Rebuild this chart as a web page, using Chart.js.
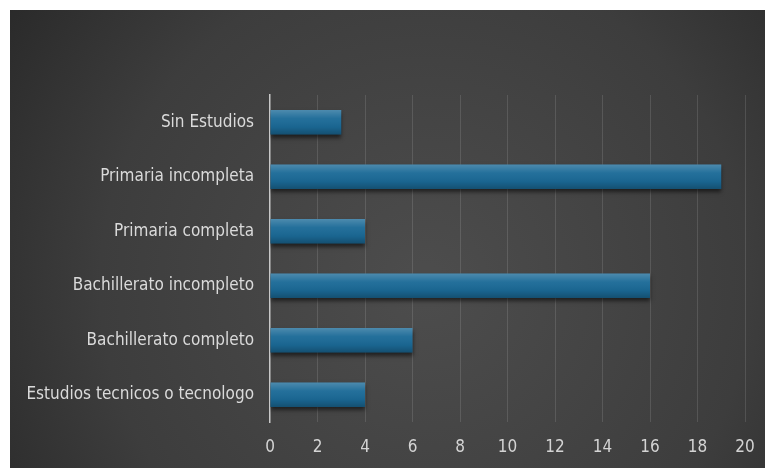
<!DOCTYPE html>
<html lang="es">
<head>
    <meta charset="UTF-8">
    <title>Nivel de estudios</title>
    <script src="https://cdn.jsdelivr.net/npm/chart.js"></script>
    <style>
        body {
            margin: 0;
            background: #ffffff;
        }
        .wrap {
            position: absolute;
            left: 10px;
            top: 10px;
            width: 755px;
            height: 458px;
        }
    </style>
</head>
<body>
    <div class="wrap"><canvas id="chart"></canvas></div>

    <script>
        // Data
        const categories = [
            'Sin Estudios',
            'Primaria incompleta',
            'Primaria completa',
            'Bachillerato incompleto',
            'Bachillerato completo',
            'Estudios tecnicos o tecnologo'
        ];
        const counts = [3, 19, 4, 16, 6, 4];
        const xMax = 20;
        const xStep = 2;

        const labelFont = { family: '"DejaVu Sans Condensed", "Liberation Sans", sans-serif', size: 17 };

        // dark radial background like the Excel style
        const bgPlugin = {
            id: 'bg',
            beforeDraw(chart) {
                const { ctx, width, height } = chart;
                const g = ctx.createRadialGradient(width * 0.55, height * 0.6, 20, width * 0.55, height * 0.6, width * 0.7);
                g.addColorStop(0, '#4c4c4c');
                g.addColorStop(0.6, '#3d3d3d');
                g.addColorStop(1, '#272727');
                ctx.save();
                ctx.fillStyle = g;
                ctx.fillRect(0, 0, width, height);
                ctx.restore();
            },
            // soft shadow under the bars
            beforeDatasetsDraw(chart) {
                const { ctx } = chart;
                ctx.save();
                ctx.shadowColor = 'rgba(0,0,0,0.55)';
                ctx.shadowBlur = 4;
                ctx.shadowOffsetY = 3;
            },
            afterDatasetsDraw(chart) {
                const { ctx } = chart;
                ctx.restore();
                // glossy vertical shading on each bar
                chart.getDatasetMeta(0).data.forEach(bar => {
                    const top = bar.y - bar.height / 2;
                    const g = ctx.createLinearGradient(0, top, 0, top + bar.height);
                    g.addColorStop(0, 'rgba(255,255,255,0.22)');
                    g.addColorStop(0.35, 'rgba(255,255,255,0.04)');
                    g.addColorStop(0.7, 'rgba(0,0,0,0.05)');
                    g.addColorStop(1, 'rgba(0,0,0,0.25)');
                    ctx.save();
                    ctx.fillStyle = g;
                    ctx.fillRect(bar.base, top, bar.x - bar.base, bar.height);
                    ctx.restore();
                });
            }
        };

        const ctx = document.getElementById('chart').getContext('2d');
        new Chart(ctx, {
            type: 'bar',
            data: {
                labels: categories,
                datasets: [{
                    data: counts,
                    backgroundColor: '#1b6a97',
                    borderWidth: 0,
                    categoryPercentage: 1,
                    barPercentage: 0.45
                }]
            },
            options: {
                indexAxis: 'y',
                responsive: true,
                maintainAspectRatio: false,
                animation: false,
                layout: { padding: { top: 85, right: 20, left: 0, bottom: 0 } },
                plugins: {
                    legend: { display: false },
                    tooltip: { enabled: false }
                },
                scales: {
                    x: {
                        min: 0,
                        max: xMax,
                        ticks: {
                            stepSize: xStep,
                            color: '#d4d4d4',
                            padding: 15,
                            font: labelFont
                        },
                        grid: {
                            color: (c) => c.index === 0 ? 'rgba(0,0,0,0)' : 'rgba(255,255,255,0.12)',
                            drawTicks: false
                        },
                        border: { display: false },
                        afterFit: (s) => {
                            s.height = 46;
                            s.paddingLeft = 0;
                            s.paddingRight = 0;
                        }
                    },
                    y: {
                        ticks: {
                            color: '#dadada',
                            padding: 16,
                            font: labelFont
                        },
                        grid: { display: false, drawTicks: false },
                        border: { display: true, color: '#c8c8c8', width: 1.5 },
                        afterFit: (s) => { s.width = 260; }
                    }
                }
            },
            plugins: [bgPlugin]
        });
    </script>
</body>
</html>
